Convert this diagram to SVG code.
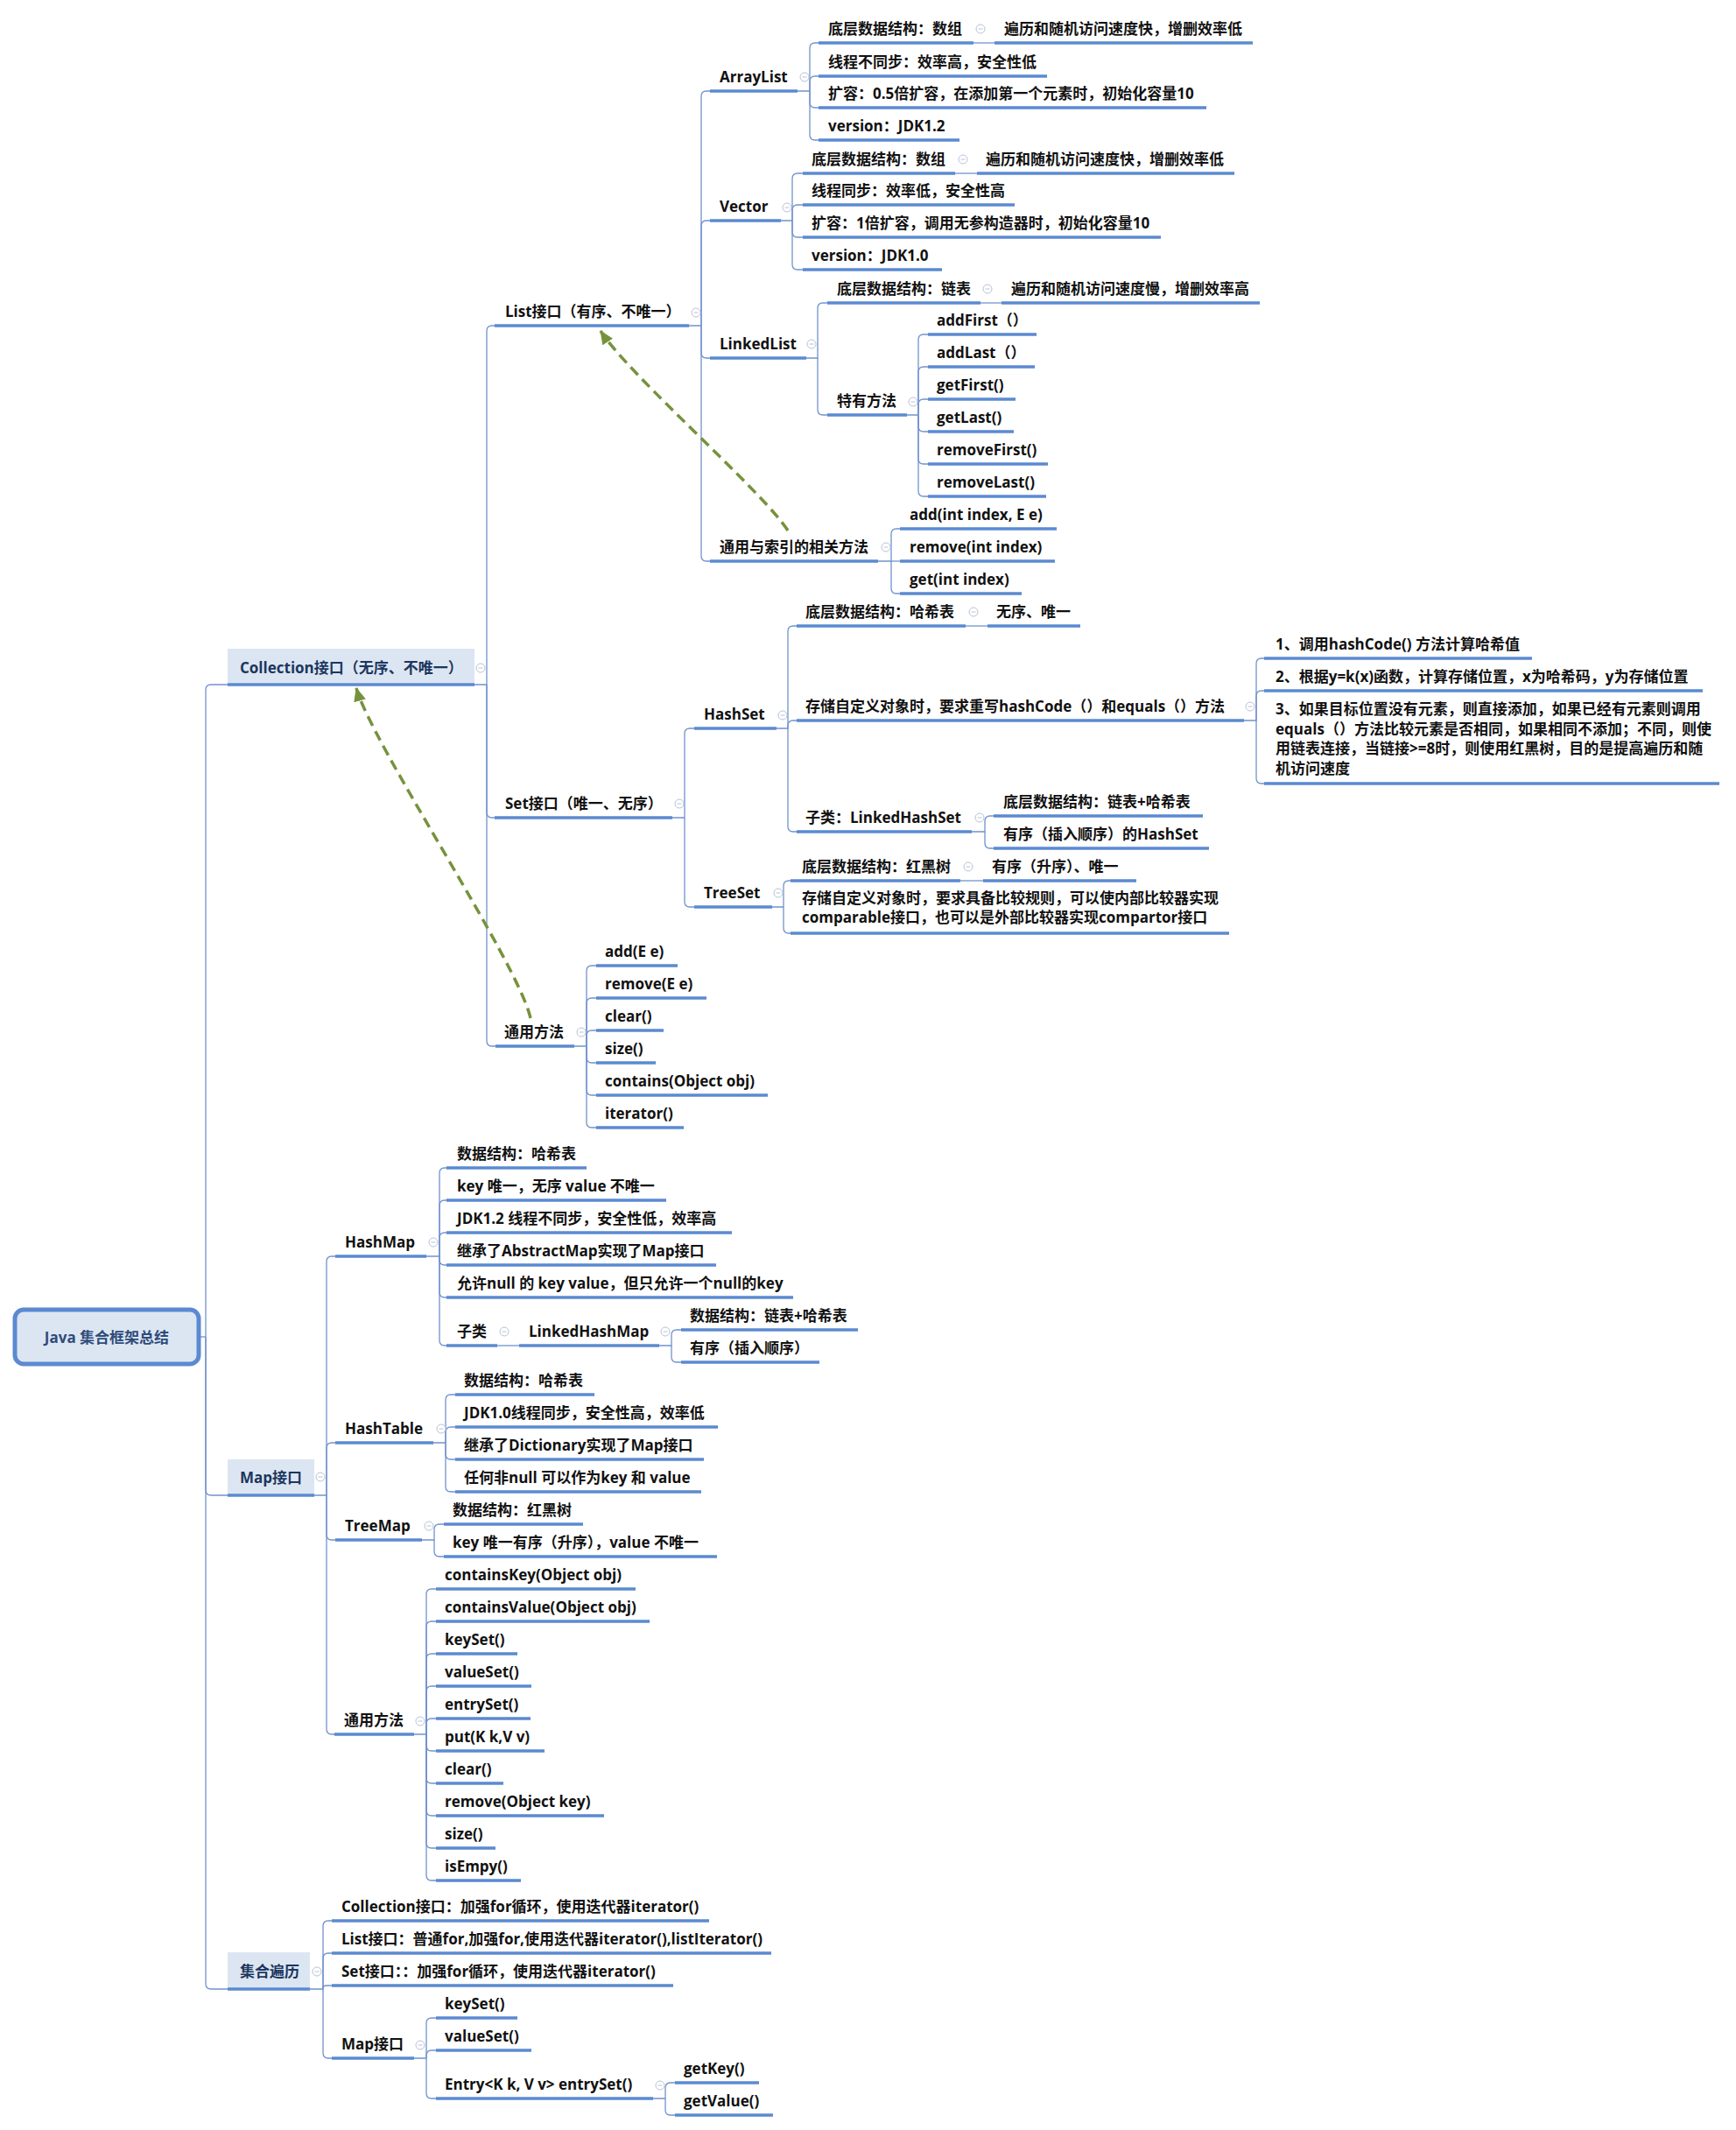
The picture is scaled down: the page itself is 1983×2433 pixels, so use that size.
<svg xmlns="http://www.w3.org/2000/svg" width="1983" height="2433" viewBox="0 0 1983 2433">
<defs>
<style>
.t{font-family:"Open Sans","Noto Sans CJK SC",sans-serif;font-size:17px;font-weight:bold;fill:#111}
.t1{fill:#1c3660}
.u{stroke:#5b8ad1;stroke-width:3.5}
.c{fill:none;stroke:#7293cc;stroke-width:1.3}
.box{fill:#dce6f2}
.ic circle{fill:#fff;stroke:#b8c2d6;stroke-width:1}
.ic line{stroke:#b8c2d6;stroke-width:1}
.d{fill:none;stroke:#76923c;stroke-width:3.5;stroke-dasharray:12 7}
</style>
<marker id="ah" viewBox="0 0 16 14" refX="15" refY="7" markerWidth="16" markerHeight="14" markerUnits="userSpaceOnUse" orient="auto">
<path d="M0,0 L16,7 L0,14 z" fill="#76923c"/>
</marker>
<g id="icon" class="ic"><circle cx="0" cy="0" r="5"/><line x1="-2.5" y1="0" x2="2.5" y2="0"/></g>
</defs>
<rect width="1983" height="2433" fill="#fff"/>

<g id="connectors">
<path class="c" d="M227 1527 H235"/>
<path class="c" d="M235 1527 V788 Q235 782 241 782 H260"/>
<path class="c" d="M235 1527 V1702 Q235 1708 241 1708 H260"/>
<path class="c" d="M235 1527 V2266 Q235 2272 241 2272 H260"/>
<path class="c" d="M542 782 H556 V378 Q556 372 562 372 H565"/>
<path class="c" d="M556 782 V928 Q556 934 562 934 H565"/>
<path class="c" d="M556 782 V1189 Q556 1195 562 1195 H566"/>
<path class="c" d="M787 372 H801 V110 Q801 104 807 104 H811"/>
<path class="c" d="M801 372 V258 Q801 252 807 252 H811"/>
<path class="c" d="M801 372 V403 Q801 409 807 409 H811"/>
<path class="c" d="M801 372 V635 Q801 641 807 641 H811"/>
<path class="c" d="M911 104 H925 V55 Q925 49 931 49 H935"/>
<path class="c" d="M925 104 V93 Q925 87 931 87 H935"/>
<path class="c" d="M925 104 V117 Q925 123 931 123 H935"/>
<path class="c" d="M925 104 V154 Q925 160 931 160 H935"/>
<path class="c" d="M1112 49 H1136"/>
<path class="c" d="M892 252 H905 V204 Q905 198 911 198 H917"/>
<path class="c" d="M905 252 V240 Q905 234 911 234 H917"/>
<path class="c" d="M905 252 V265 Q905 271 911 271 H917"/>
<path class="c" d="M905 252 V302 Q905 308 911 308 H917"/>
<path class="c" d="M1091 198 H1116"/>
<path class="c" d="M921 409 H934 V352 Q934 346 940 346 H945"/>
<path class="c" d="M934 409 V468 Q934 474 940 474 H945"/>
<path class="c" d="M1120 346 H1144"/>
<path class="c" d="M1036 474 H1049 V388 Q1049 382 1055 382 H1060"/>
<path class="c" d="M1049 474 V425 Q1049 419 1055 419 H1060"/>
<path class="c" d="M1049 474 V462 Q1049 456 1055 456 H1060"/>
<path class="c" d="M1049 474 V487 Q1049 493 1055 493 H1060"/>
<path class="c" d="M1049 474 V524 Q1049 530 1055 530 H1060"/>
<path class="c" d="M1049 474 V561 Q1049 567 1055 567 H1060"/>
<path class="c" d="M1003 641 H1018 V610 Q1018 604 1024 604 H1028"/>
<path class="c" d="M1018 641 H1028"/>
<path class="c" d="M1018 641 V672 Q1018 678 1024 678 H1028"/>
<path class="c" d="M768 934 H782 V838 Q782 832 788 832 H793"/>
<path class="c" d="M782 934 V1030 Q782 1036 788 1036 H793"/>
<path class="c" d="M887 832 H900 V721 Q900 715 906 715 H910"/>
<path class="c" d="M900 832 V829 Q900 823 906 823 H910"/>
<path class="c" d="M900 832 V944 Q900 950 906 950 H910"/>
<path class="c" d="M1103 715 H1128"/>
<path class="c" d="M1421 823 H1435 V758 Q1435 752 1441 752 H1444"/>
<path class="c" d="M1435 823 V795 Q1435 789 1441 789 H1444"/>
<path class="c" d="M1435 823 V889 Q1435 895 1441 895 H1444"/>
<path class="c" d="M1110 950 H1125 V938 Q1125 932 1131 932 H1135"/>
<path class="c" d="M1125 950 V963 Q1125 969 1131 969 H1135"/>
<path class="c" d="M882 1036 H895 V1012 Q895 1006 901 1006 H903"/>
<path class="c" d="M895 1036 V1060 Q895 1066 901 1066 H903"/>
<path class="c" d="M1097 1006 H1123"/>
<path class="c" d="M656 1195 H670 V1109 Q670 1103 676 1103 H681"/>
<path class="c" d="M670 1195 V1146 Q670 1140 676 1140 H681"/>
<path class="c" d="M670 1195 V1183 Q670 1177 676 1177 H681"/>
<path class="c" d="M670 1195 V1208 Q670 1214 676 1214 H681"/>
<path class="c" d="M670 1195 V1245 Q670 1251 676 1251 H681"/>
<path class="c" d="M670 1195 V1282 Q670 1288 676 1288 H681"/>
<path class="c" d="M359 1708 H373 V1441 Q373 1435 379 1435 H383"/>
<path class="c" d="M373 1708 V1654 Q373 1648 379 1648 H383"/>
<path class="c" d="M373 1708 V1753 Q373 1759 379 1759 H383"/>
<path class="c" d="M373 1708 V1975 Q373 1981 379 1981 H382"/>
<path class="c" d="M487 1435 H502 V1340 Q502 1334 508 1334 H510"/>
<path class="c" d="M502 1435 V1377 Q502 1371 508 1371 H510"/>
<path class="c" d="M502 1435 V1414 Q502 1408 508 1408 H510"/>
<path class="c" d="M502 1435 V1439 Q502 1445 508 1445 H510"/>
<path class="c" d="M502 1435 V1476 Q502 1482 508 1482 H510"/>
<path class="c" d="M502 1435 V1531 Q502 1537 508 1537 H510"/>
<path class="c" d="M568 1537 H593"/>
<path class="c" d="M753 1537 H767 V1525 Q767 1519 773 1519 H778"/>
<path class="c" d="M767 1537 V1550 Q767 1556 773 1556 H778"/>
<path class="c" d="M495 1648 H509 V1599 Q509 1593 515 1593 H520"/>
<path class="c" d="M509 1648 V1636 Q509 1630 515 1630 H520"/>
<path class="c" d="M509 1648 V1661 Q509 1667 515 1667 H520"/>
<path class="c" d="M509 1648 V1698 Q509 1704 515 1704 H520"/>
<path class="c" d="M482 1759 H496 V1747 Q496 1741 502 1741 H507"/>
<path class="c" d="M496 1759 V1772 Q496 1778 502 1778 H507"/>
<path class="c" d="M473 1981 H487 V1821 Q487 1815 493 1815 H498"/>
<path class="c" d="M487 1981 V1858 Q487 1852 493 1852 H498"/>
<path class="c" d="M487 1981 V1895 Q487 1889 493 1889 H498"/>
<path class="c" d="M487 1981 V1932 Q487 1926 493 1926 H498"/>
<path class="c" d="M487 1981 V1969 Q487 1963 493 1963 H498"/>
<path class="c" d="M487 1981 V1994 Q487 2000 493 2000 H498"/>
<path class="c" d="M487 1981 V2031 Q487 2037 493 2037 H498"/>
<path class="c" d="M487 1981 V2068 Q487 2074 493 2074 H498"/>
<path class="c" d="M487 1981 V2105 Q487 2111 493 2111 H498"/>
<path class="c" d="M487 1981 V2142 Q487 2148 493 2148 H498"/>
<path class="c" d="M354 2272 H369 V2200 Q369 2194 375 2194 H379"/>
<path class="c" d="M369 2272 V2237 Q369 2231 375 2231 H379"/>
<path class="c" d="M369 2272 V2271 Q369 2268 373 2268 H379"/>
<path class="c" d="M369 2272 V2345 Q369 2351 375 2351 H379"/>
<path class="c" d="M473 2351 H487 V2311 Q487 2305 493 2305 H498"/>
<path class="c" d="M487 2351 V2348 Q487 2342 493 2342 H498"/>
<path class="c" d="M487 2351 V2391 Q487 2397 493 2397 H498"/>
<path class="c" d="M746 2397 H760 V2385 Q760 2379 766 2379 H771"/>
<path class="c" d="M760 2397 V2410 Q760 2416 766 2416 H771"/>
<path class="d" d="M900 606 C870 560 720 430 686 378" marker-end="url(#ah)"/>
<path class="d" d="M606 1163 C592 1100 425 850 407 786" marker-end="url(#ah)"/>
</g>

<g id="root">
<rect x="17" y="1496" width="210" height="62" rx="10" fill="#dce6f2" stroke="#5b8ad1" stroke-width="5"/>
<text class="t" x="122" y="1534" text-anchor="middle" style="fill:#2f4b7a">Java 集合框架总结</text>
</g>

<g id="collection">
<rect class="box" x="260" y="741" width="282" height="41"/>
<line class="u" x1="260" y1="782" x2="542" y2="782"/>
<text class="t t1" x="274" y="769">Collection接口（无序、不唯一）</text>
<use href="#icon" x="549" y="763"/>
</g>

<g id="list">
<text class="t" x="577" y="362">List接口（有序、不唯一）</text>
<line class="u" x1="565" y1="372" x2="787" y2="372"/>
<use href="#icon" x="795" y="357"/>
</g>

<g id="arraylist">
<text class="t" x="822" y="94">ArrayList</text>
<line class="u" x1="811" y1="104" x2="911" y2="104"/>
<use href="#icon" x="919" y="88"/>
</g>
<g id="al-1"><text class="t" x="946" y="39">底层数据结构：数组</text><line class="u" x1="935" y1="49" x2="1112" y2="49"/><use href="#icon" x="1120" y="33"/></g>
<g id="al-1b"><text class="t" x="1147" y="39">遍历和随机访问速度快，增删效率低</text><line class="u" x1="1136" y1="49" x2="1431" y2="49"/></g>
<g id="al-2"><text class="t" x="946" y="77">线程不同步：效率高，安全性低</text><line class="u" x1="935" y1="87" x2="1196" y2="87"/></g>
<g id="al-3"><text class="t" x="946" y="113">扩容：0.5倍扩容，在添加第一个元素时，初始化容量10</text><line class="u" x1="935" y1="123" x2="1378" y2="123"/></g>
<g id="al-4"><text class="t" x="946" y="150">version：JDK1.2</text><line class="u" x1="935" y1="160" x2="1096" y2="160"/></g>

<g id="vector">
<text class="t" x="822" y="242">Vector</text>
<line class="u" x1="811" y1="252" x2="892" y2="252"/>
<use href="#icon" x="899" y="237"/>
</g>
<g id="v-1"><text class="t" x="927" y="188">底层数据结构：数组</text><line class="u" x1="917" y1="198" x2="1091" y2="198"/><use href="#icon" x="1100" y="182"/></g>
<g id="v-1b"><text class="t" x="1126" y="188">遍历和随机访问速度快，增删效率低</text><line class="u" x1="1116" y1="198" x2="1410" y2="198"/></g>
<g id="v-2"><text class="t" x="927" y="224">线程同步：效率低，安全性高</text><line class="u" x1="917" y1="234" x2="1159" y2="234"/></g>
<g id="v-3"><text class="t" x="927" y="261">扩容：1倍扩容，调用无参构造器时，初始化容量10</text><line class="u" x1="917" y1="271" x2="1326" y2="271"/></g>
<g id="v-4"><text class="t" x="927" y="298">version：JDK1.0</text><line class="u" x1="917" y1="308" x2="1076" y2="308"/></g>

<g id="linkedlist">
<text class="t" x="822" y="399">LinkedList</text>
<line class="u" x1="811" y1="409" x2="921" y2="409"/>
<use href="#icon" x="927" y="393"/>
</g>
<g id="ll-1"><text class="t" x="956" y="336">底层数据结构：链表</text><line class="u" x1="945" y1="346" x2="1120" y2="346"/><use href="#icon" x="1128" y="330"/></g>
<g id="ll-1b"><text class="t" x="1155" y="336">遍历和随机访问速度慢，增删效率高</text><line class="u" x1="1144" y1="346" x2="1439" y2="346"/></g>
<g id="ll-2"><text class="t" x="956" y="464">特有方法</text><line class="u" x1="945" y1="474" x2="1036" y2="474"/><use href="#icon" x="1043" y="459"/></g>
<g id="ll-m1"><text class="t" x="1070" y="372">addFirst（）</text><line class="u" x1="1060" y1="382" x2="1184" y2="382"/></g>
<g id="ll-m2"><text class="t" x="1070" y="409">addLast（）</text><line class="u" x1="1060" y1="419" x2="1182" y2="419"/></g>
<g id="ll-m3"><text class="t" x="1070" y="446">getFirst()</text><line class="u" x1="1060" y1="456" x2="1160" y2="456"/></g>
<g id="ll-m4"><text class="t" x="1070" y="483">getLast()</text><line class="u" x1="1060" y1="493" x2="1158" y2="493"/></g>
<g id="ll-m5"><text class="t" x="1070" y="520">removeFirst()</text><line class="u" x1="1060" y1="530" x2="1197" y2="530"/></g>
<g id="ll-m6"><text class="t" x="1070" y="557">removeLast()</text><line class="u" x1="1060" y1="567" x2="1195" y2="567"/></g>

<g id="index-methods">
<text class="t" x="822" y="631">通用与索引的相关方法</text>
<line class="u" x1="811" y1="641" x2="1003" y2="641"/>
<use href="#icon" x="1012" y="625"/>
</g>
<g id="im-1"><text class="t" x="1039" y="594">add(int index, E e)</text><line class="u" x1="1028" y1="604" x2="1207" y2="604"/></g>
<g id="im-2"><text class="t" x="1039" y="631">remove(int index)</text><line class="u" x1="1028" y1="641" x2="1205" y2="641"/></g>
<g id="im-3"><text class="t" x="1039" y="668">get(int index)</text><line class="u" x1="1028" y1="678" x2="1167" y2="678"/></g>

<g id="set">
<text class="t" x="577" y="924">Set接口（唯一、无序）</text>
<line class="u" x1="565" y1="934" x2="768" y2="934"/>
<use href="#icon" x="776" y="918"/>
</g>
<g id="hashset">
<text class="t" x="804" y="822">HashSet</text>
<line class="u" x1="793" y1="832" x2="887" y2="832"/>
<use href="#icon" x="894" y="817"/>
</g>
<g id="hs-1"><text class="t" x="920" y="705">底层数据结构：哈希表</text><line class="u" x1="910" y1="715" x2="1103" y2="715"/><use href="#icon" x="1112" y="699"/></g>
<g id="hs-1b"><text class="t" x="1138" y="705">无序、唯一</text><line class="u" x1="1128" y1="715" x2="1234" y2="715"/></g>
<g id="hs-2"><text class="t" x="920" y="813">存储自定义对象时，要求重写hashCode（）和equals（）方法</text><line class="u" x1="910" y1="823" x2="1421" y2="823"/><use href="#icon" x="1428" y="807"/></g>
<g id="hs-2-1"><text class="t" x="1457" y="742">1、调用hashCode() 方法计算哈希值</text><line class="u" x1="1444" y1="752" x2="1750" y2="752"/></g>
<g id="hs-2-2"><text class="t" x="1457" y="779">2、根据y=k(x)函数，计算存储位置，x为哈希码，y为存储位置</text><line class="u" x1="1444" y1="789" x2="1945" y2="789"/></g>
<g id="hs-2-3"><text class="t" x="1457" y="816">3、如果目标位置没有元素，则直接添加，如果已经有元素则调用</text><text class="t" x="1457" y="839">equals（）方法比较元素是否相同，如果相同不添加；不同，则使</text><text class="t" x="1457" y="861">用链表连接，当链接&gt;=8时，则使用红黑树，目的是提高遍历和随</text><text class="t" x="1457" y="884">机访问速度</text><line class="u" x1="1444" y1="895" x2="1964" y2="895"/></g>
<g id="hs-3"><text class="t" x="920" y="940">子类：LinkedHashSet</text><line class="u" x1="910" y1="950" x2="1110" y2="950"/><use href="#icon" x="1119" y="934"/></g>
<g id="hs-3-1"><text class="t" x="1146" y="922">底层数据结构：链表+哈希表</text><line class="u" x1="1135" y1="932" x2="1374" y2="932"/></g>
<g id="hs-3-2"><text class="t" x="1146" y="959">有序（插入顺序）的HashSet</text><line class="u" x1="1135" y1="969" x2="1381" y2="969"/></g>

<g id="treeset">
<text class="t" x="804" y="1026">TreeSet</text>
<line class="u" x1="793" y1="1036" x2="882" y2="1036"/>
<use href="#icon" x="889" y="1020"/>
</g>
<g id="ts-1"><text class="t" x="916" y="996">底层数据结构：红黑树</text><line class="u" x1="903" y1="1006" x2="1097" y2="1006"/><use href="#icon" x="1106" y="990"/></g>
<g id="ts-1b"><text class="t" x="1133" y="996">有序（升序）、唯一</text><line class="u" x1="1123" y1="1006" x2="1298" y2="1006"/></g>
<g id="ts-2"><text class="t" x="916" y="1032">存储自定义对象时，要求具备比较规则，可以使内部比较器实现</text><text class="t" x="916" y="1054">comparable接口，也可以是外部比较器实现compartor接口</text><line class="u" x1="903" y1="1066" x2="1404" y2="1066"/></g>

<g id="coll-methods">
<text class="t" x="576" y="1185">通用方法</text>
<line class="u" x1="566" y1="1195" x2="656" y2="1195"/>
<use href="#icon" x="664" y="1179"/>
</g>
<g id="cm-1"><text class="t" x="691" y="1093">add(E e)</text><line class="u" x1="681" y1="1103" x2="774" y2="1103"/></g>
<g id="cm-2"><text class="t" x="691" y="1130">remove(E e)</text><line class="u" x1="681" y1="1140" x2="807" y2="1140"/></g>
<g id="cm-3"><text class="t" x="691" y="1167">clear()</text><line class="u" x1="681" y1="1177" x2="758" y2="1177"/></g>
<g id="cm-4"><text class="t" x="691" y="1204">size()</text><line class="u" x1="681" y1="1214" x2="749" y2="1214"/></g>
<g id="cm-5"><text class="t" x="691" y="1241">contains(Object obj)</text><line class="u" x1="681" y1="1251" x2="877" y2="1251"/></g>
<g id="cm-6"><text class="t" x="691" y="1278">iterator()</text><line class="u" x1="681" y1="1288" x2="781" y2="1288"/></g>

<g id="map">
<rect class="box" x="260" y="1667" width="99" height="41"/>
<line class="u" x1="260" y1="1708" x2="359" y2="1708"/>
<text class="t t1" x="274" y="1694">Map接口</text>
<use href="#icon" x="366" y="1687"/>
</g>
<g id="hashmap">
<text class="t" x="394" y="1425">HashMap</text>
<line class="u" x1="383" y1="1435" x2="487" y2="1435"/>
<use href="#icon" x="495" y="1419"/>
</g>
<g id="hm-1"><text class="t" x="522" y="1324">数据结构：哈希表</text><line class="u" x1="510" y1="1334" x2="670" y2="1334"/></g>
<g id="hm-2"><text class="t" x="522" y="1361">key 唯一，无序 value 不唯一</text><line class="u" x1="510" y1="1371" x2="761" y2="1371"/></g>
<g id="hm-3"><text class="t" x="522" y="1398">JDK1.2 线程不同步，安全性低，效率高</text><line class="u" x1="510" y1="1408" x2="836" y2="1408"/></g>
<g id="hm-4"><text class="t" x="522" y="1435">继承了AbstractMap实现了Map接口</text><line class="u" x1="510" y1="1445" x2="818" y2="1445"/></g>
<g id="hm-5"><text class="t" x="522" y="1472">允许null 的 key value，但只允许一个null的key</text><line class="u" x1="510" y1="1482" x2="906" y2="1482"/></g>
<g id="hm-6"><text class="t" x="522" y="1527">子类</text><line class="u" x1="510" y1="1537" x2="568" y2="1537"/><use href="#icon" x="576" y="1521"/></g>
<g id="linkedhashmap"><text class="t" x="604" y="1527">LinkedHashMap</text><line class="u" x1="593" y1="1537" x2="753" y2="1537"/><use href="#icon" x="760" y="1521"/></g>
<g id="lhm-1"><text class="t" x="788" y="1509">数据结构：链表+哈希表</text><line class="u" x1="778" y1="1519" x2="980" y2="1519"/></g>
<g id="lhm-2"><text class="t" x="788" y="1546">有序（插入顺序）</text><line class="u" x1="778" y1="1556" x2="936" y2="1556"/></g>

<g id="hashtable">
<text class="t" x="394" y="1638">HashTable</text>
<line class="u" x1="383" y1="1648" x2="495" y2="1648"/>
<use href="#icon" x="504" y="1632"/>
</g>
<g id="ht-1"><text class="t" x="530" y="1583">数据结构：哈希表</text><line class="u" x1="520" y1="1593" x2="679" y2="1593"/></g>
<g id="ht-2"><text class="t" x="530" y="1620">JDK1.0线程同步，安全性高，效率低</text><line class="u" x1="520" y1="1630" x2="820" y2="1630"/></g>
<g id="ht-3"><text class="t" x="530" y="1657">继承了Dictionary实现了Map接口</text><line class="u" x1="520" y1="1667" x2="804" y2="1667"/></g>
<g id="ht-4"><text class="t" x="530" y="1694">任何非null 可以作为key 和 value</text><line class="u" x1="520" y1="1704" x2="801" y2="1704"/></g>

<g id="treemap">
<text class="t" x="394" y="1749">TreeMap</text>
<line class="u" x1="383" y1="1759" x2="482" y2="1759"/>
<use href="#icon" x="490" y="1743"/>
</g>
<g id="tm-1"><text class="t" x="517" y="1731">数据结构：红黑树</text><line class="u" x1="507" y1="1741" x2="666" y2="1741"/></g>
<g id="tm-2"><text class="t" x="517" y="1768">key 唯一有序（升序），value 不唯一</text><line class="u" x1="507" y1="1778" x2="819" y2="1778"/></g>

<g id="map-methods">
<text class="t" x="393" y="1971">通用方法</text>
<line class="u" x1="382" y1="1981" x2="473" y2="1981"/>
<use href="#icon" x="480" y="1966"/>
</g>
<g id="mm-1"><text class="t" x="508" y="1805">containsKey(Object obj)</text><line class="u" x1="498" y1="1815" x2="726" y2="1815"/></g>
<g id="mm-2"><text class="t" x="508" y="1842">containsValue(Object obj)</text><line class="u" x1="498" y1="1852" x2="742" y2="1852"/></g>
<g id="mm-3"><text class="t" x="508" y="1879">keySet()</text><line class="u" x1="498" y1="1889" x2="591" y2="1889"/></g>
<g id="mm-4"><text class="t" x="508" y="1916">valueSet()</text><line class="u" x1="498" y1="1926" x2="607" y2="1926"/></g>
<g id="mm-5"><text class="t" x="508" y="1953">entrySet()</text><line class="u" x1="498" y1="1963" x2="606" y2="1963"/></g>
<g id="mm-6"><text class="t" x="508" y="1990">put(K k,V v)</text><line class="u" x1="498" y1="2000" x2="622" y2="2000"/></g>
<g id="mm-7"><text class="t" x="508" y="2027">clear()</text><line class="u" x1="498" y1="2037" x2="575" y2="2037"/></g>
<g id="mm-8"><text class="t" x="508" y="2064">remove(Object key)</text><line class="u" x1="498" y1="2074" x2="690" y2="2074"/></g>
<g id="mm-9"><text class="t" x="508" y="2101">size()</text><line class="u" x1="498" y1="2111" x2="566" y2="2111"/></g>
<g id="mm-10"><text class="t" x="508" y="2138">isEmpy()</text><line class="u" x1="498" y1="2148" x2="595" y2="2148"/></g>

<g id="traversal">
<rect class="box" x="260" y="2230" width="94" height="42"/>
<line class="u" x1="260" y1="2272" x2="354" y2="2272"/>
<text class="t t1" x="274" y="2258">集合遍历</text>
<use href="#icon" x="362" y="2252"/>
</g>
<g id="tr-1"><text class="t" x="390" y="2184">Collection接口：加强for循环，使用迭代器iterator()</text><line class="u" x1="379" y1="2194" x2="810" y2="2194"/></g>
<g id="tr-2"><text class="t" x="390" y="2221">List接口：普通for,加强for,使用迭代器iterator(),listIterator()</text><line class="u" x1="379" y1="2231" x2="881" y2="2231"/></g>
<g id="tr-3"><text class="t" x="390" y="2258">Set接口：：加强for循环，使用迭代器iterator()</text><line class="u" x1="379" y1="2268" x2="769" y2="2268"/></g>
<g id="tr-4"><text class="t" x="390" y="2341">Map接口</text><line class="u" x1="379" y1="2351" x2="473" y2="2351"/><use href="#icon" x="480" y="2336"/></g>
<g id="tr-4-1"><text class="t" x="508" y="2295">keySet()</text><line class="u" x1="498" y1="2305" x2="591" y2="2305"/></g>
<g id="tr-4-2"><text class="t" x="508" y="2332">valueSet()</text><line class="u" x1="498" y1="2342" x2="607" y2="2342"/></g>
<g id="tr-4-3"><text class="t" x="508" y="2387">Entry&lt;K k, V v&gt; entrySet()</text><line class="u" x1="498" y1="2397" x2="746" y2="2397"/><use href="#icon" x="754" y="2382"/></g>
<g id="tr-4-3-1"><text class="t" x="781" y="2369">getKey()</text><line class="u" x1="771" y1="2379" x2="867" y2="2379"/></g>
<g id="tr-4-3-2"><text class="t" x="781" y="2406">getValue()</text><line class="u" x1="771" y1="2416" x2="883" y2="2416"/></g>
</svg>
